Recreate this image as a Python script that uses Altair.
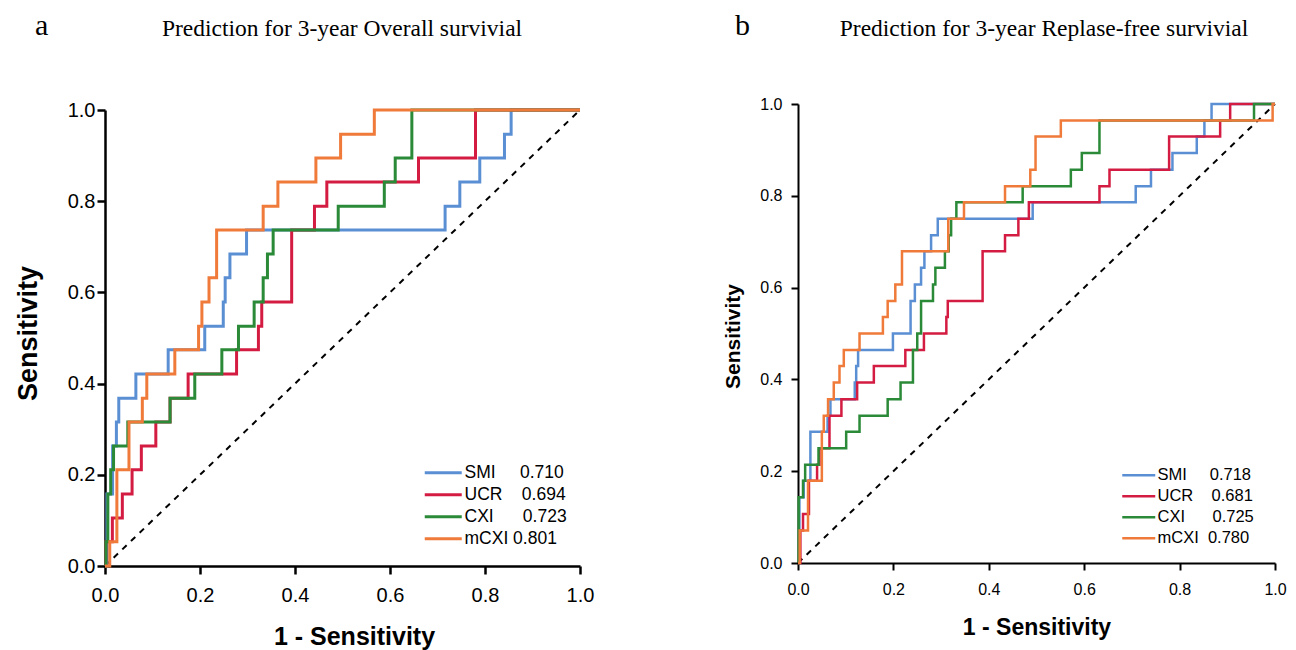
import altair as alt
import pandas as pd

NB = "\u00a0"

models = ["SMI", "UCR", "CXI", "mCXI"]
colors = ["#5b8fd4", "#d41c42", "#2a8a38", "#ef7a3a"]
auc_a = ["0.710", "0.694", "0.723", "0.801"]
auc_b = ["0.718", "0.681", "0.725", "0.780"]
gap_a = [5, 4, 6, 1]
gap_b = [5, 4, 6, 2]
ticks = [0.0, 0.2, 0.4, 0.6, 0.8, 1.0]
diag = [0.0, 1.0]

# ---- panel a : 3-year overall survival (step points: fpr where the curve rises, tpr after rising)
smi_a_fpr = [0, 0.004, 0.016, 0.024, 0.029, 0.065, 0.133, 0.21, 0.249, 0.253, 0.263, 0.298, 0.716, 0.747, 0.789, 0.841, 0.855, 1.0]
smi_a_tpr = [0, 0.158, 0.263, 0.316, 0.368, 0.421, 0.474, 0.526, 0.579, 0.632, 0.684, 0.737, 0.789, 0.842, 0.895, 0.947, 1.0, 1.0]
ucr_a_fpr = [0, 0.002, 0.0155, 0.0365, 0.057, 0.0765, 0.107, 0.137, 0.175, 0.277, 0.323, 0.33, 0.393, 0.441, 0.467, 0.66, 0.78, 1.0]
ucr_a_tpr = [0, 0.053, 0.105, 0.158, 0.211, 0.263, 0.316, 0.368, 0.421, 0.474, 0.526, 0.579, 0.737, 0.789, 0.842, 0.895, 1.0, 1.0]
cxi_a_fpr = [0, 0.002, 0.006, 0.012, 0.018, 0.048, 0.137, 0.189, 0.246, 0.281, 0.314, 0.333, 0.342, 0.354, 0.491, 0.588, 0.611, 0.646, 1.0]
cxi_a_tpr = [0, 0.053, 0.158, 0.211, 0.263, 0.316, 0.368, 0.421, 0.474, 0.526, 0.579, 0.632, 0.684, 0.737, 0.789, 0.842, 0.895, 1.0, 1.0]
mcxi_a_fpr = [0, 0.01, 0.025, 0.0505, 0.0786, 0.088, 0.147, 0.197, 0.204, 0.219, 0.235, 0.333, 0.364, 0.444, 0.496, 0.567, 1.0]
mcxi_a_tpr = [0, 0.053, 0.211, 0.316, 0.368, 0.421, 0.474, 0.526, 0.579, 0.632, 0.737, 0.789, 0.842, 0.895, 0.947, 1.0, 1.0]

# ---- panel b : 3-year relapse-free survival
smi_b_fpr = [0, 0.003, 0.012, 0.026, 0.062, 0.068, 0.119, 0.122, 0.126, 0.199, 0.236, 0.245, 0.258, 0.265, 0.279, 0.293, 0.492, 0.708, 0.74, 0.785, 0.836, 0.852, 0.867, 1.0]
smi_b_tpr = [0, 0.143, 0.179, 0.286, 0.321, 0.357, 0.393, 0.429, 0.464, 0.5, 0.571, 0.607, 0.643, 0.679, 0.714, 0.75, 0.786, 0.821, 0.857, 0.893, 0.929, 0.964, 1.0, 1.0]
ucr_b_fpr = [0, 0.005, 0.0105, 0.023, 0.04, 0.045, 0.066, 0.091, 0.124, 0.159, 0.225, 0.264, 0.311, 0.314, 0.387, 0.434, 0.462, 0.484, 0.632, 0.653, 0.778, 0.885, 0.906, 1.0]
ucr_b_tpr = [0, 0.071, 0.107, 0.179, 0.214, 0.25, 0.321, 0.357, 0.393, 0.429, 0.464, 0.5, 0.536, 0.571, 0.679, 0.714, 0.75, 0.786, 0.821, 0.857, 0.929, 0.964, 1.0, 1.0]
cxi_b_fpr = [0, 0.0014, 0.0105, 0.015, 0.043, 0.101, 0.129, 0.188, 0.215, 0.241, 0.25, 0.258, 0.283, 0.288, 0.308, 0.316, 0.321, 0.332, 0.471, 0.572, 0.595, 0.632, 0.956, 1.0]
cxi_b_tpr = [0, 0.143, 0.179, 0.214, 0.25, 0.286, 0.321, 0.357, 0.393, 0.464, 0.5, 0.571, 0.607, 0.643, 0.679, 0.714, 0.75, 0.786, 0.821, 0.857, 0.893, 0.964, 1.0, 1.0]
mcxi_b_fpr = [0, 0.0035, 0.021, 0.05, 0.054, 0.063, 0.075, 0.087, 0.096, 0.129, 0.178, 0.188, 0.204, 0.218, 0.315, 0.348, 0.434, 0.487, 0.498, 0.551, 0.995, 1.0]
mcxi_b_tpr = [0, 0.071, 0.179, 0.286, 0.321, 0.357, 0.393, 0.429, 0.464, 0.5, 0.536, 0.571, 0.607, 0.679, 0.75, 0.786, 0.821, 0.857, 0.929, 0.964, 1.0, 1.0]

title_a = "Prediction for 3-year Overall survivial"
title_b = "Prediction for 3-year Replase-free survivial"
x_title = "1 - Sensitivity"
y_title = "Sensitivity"


def build(fprs, tprs, aucs, gaps):
    rows = []
    labels = []
    for m, f, t, a, g in zip(models, fprs, tprs, aucs, gaps):
        lab = m + NB * g + a
        labels.append(lab)
        for i, (x, y) in enumerate(zip(f, t)):
            rows.append({"model": lab, "fpr": x, "tpr": y, "i": i})
    return pd.DataFrame(rows), labels


def panel(df, labels, s):
    xsc = alt.Scale(domain=[0, 1], nice=False, zero=False)
    ysc = alt.Scale(domain=[0, 1], nice=False, zero=False, range=s["yr"])
    xaxis = alt.Axis(values=ticks, format=".1f", grid=False, labelFlush=False,
                     labelFont="Liberation Sans", labelFontSize=s["lab"], labelColor="black",
                     labelPadding=s["xlp"], tickSize=s["tick"], tickWidth=s["aw"], tickColor="black",
                     domainColor="black", domainWidth=s["aw"],
                     titleFont="Liberation Sans", titleFontSize=s["xt"], titleFontWeight="bold",
                     titleColor="black", titlePadding=s["xtp"], titleX=s["xtx"])
    yaxis = alt.Axis(values=ticks, format=".1f", grid=False, labelFlush=False,
                     labelFont="Liberation Sans", labelFontSize=s["lab"], labelColor="black",
                     labelPadding=s["ylp"], tickSize=s["tick"], tickWidth=s["aw"], tickColor="black",
                     domainColor="black", domainWidth=s["aw"],
                     titleFont="Liberation Sans", titleFontSize=s["yt"], titleFontWeight="bold",
                     titleColor="black", titlePadding=s["ytp"], titleY=s["yty"])
    x = alt.X("fpr:Q", scale=xsc, axis=xaxis, title=x_title)
    y = alt.Y("tpr:Q", scale=ysc, axis=yaxis, title=y_title)

    d = alt.Chart(pd.DataFrame({"fpr": diag, "tpr": diag})).mark_line(
        color="black", strokeDash=[6, 6], strokeWidth=2).encode(x=x, y=y)

    lines = alt.Chart(df).mark_line(interpolate="step-after", strokeWidth=s["lw"],
                                    strokeJoin="miter").encode(
        x=x, y=y,
        color=alt.Color("model:N", sort=labels,
                        scale=alt.Scale(domain=labels, range=colors),
                        legend=alt.Legend(title=None, orient="none",
                                          legendX=s["lx"], legendY=s["ly"],
                                          symbolType=s["sym"], symbolSize=64,
                                          symbolStrokeWidth=s["lw"], labelOffset=0,
                                          labelFont="Liberation Sans",
                                          labelFontSize=s["lf"], labelColor="black",
                                          rowPadding=s["rp"], padding=0)),
        order="i:Q",
    )

    letter = alt.Chart(pd.DataFrame({"t": [s["letter"]]})).mark_text(
        font="Liberation Serif", fontSize=30, align="left", baseline="alphabetic",
        color="black").encode(x=alt.value(s["lxp"]), y=alt.value(s["lyp"]), text="t:N")
    ttl = alt.Chart(pd.DataFrame({"t": [s["title"]]})).mark_text(
        font="Liberation Serif", fontSize=23.5, align="center", baseline="alphabetic",
        color="black").encode(x=alt.value(s["tx"]), y=alt.value(s["ty"]), text="t:N")

    return alt.layer(d, lines, letter, ttl).properties(width=s["w"], height=s["h"])


df_a, lab_a = build([smi_a_fpr, ucr_a_fpr, cxi_a_fpr, mcxi_a_fpr],
                    [smi_a_tpr, ucr_a_tpr, cxi_a_tpr, mcxi_a_tpr], auc_a, gap_a)
df_b, lab_b = build([smi_b_fpr, ucr_b_fpr, cxi_b_fpr, mcxi_b_fpr],
                    [smi_b_tpr, ucr_b_tpr, cxi_b_tpr, mcxi_b_tpr], auc_b, gap_b)

sa = dict(w=475, h=462, yr=[462, 6], lab=20, xlp=11.5, ylp=2, tick=8, aw=2.5,
          xt=25, xtp=18.5, xtx=249, yt=27, ytp=25, yty=229,
          lw=3, lx=342, ly=360, lf=17.5, rp=3, sym="M-7.75,0H1.5",
          letter="a", lxp=-70, lyp=-69, title=title_a, tx=237, ty=-68)
sb = dict(w=477, h=459, yr=[459, 0], lab=16, xlp=11, ylp=9, tick=7, aw=2,
          xt=23, xtp=19, xtx=238.5, yt=21, ytp=16, yty=232,
          lw=2.5, lx=343, ly=363, lf=16.5, rp=4, sym="M-6.75,0H1.5",
          letter="b", lxp=-63, lyp=-69, title=title_b, tx=246, ty=-68)

chart = alt.hconcat(panel(df_a, lab_a, sa), panel(df_b, lab_b, sb), spacing=128).properties(
    padding={"left": 6, "top": 3, "right": 0, "bottom": 3}
).configure_view(stroke=None).resolve_scale(color="independent")

chart.save("out.html", embed_options={"renderer": "svg", "actions": False})
